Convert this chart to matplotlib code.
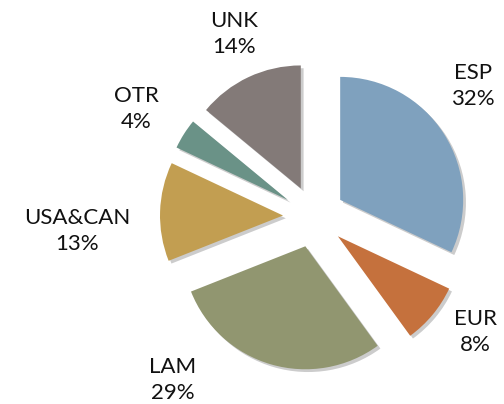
import matplotlib
matplotlib.use("Agg")
import matplotlib.pyplot as plt
import matplotlib.patheffects as pe

# Regions and share of total (%)
regions = ["ESP", "EUR", "LAM", "USA&CAN", "OTR", "UNK"]
shares = [32, 8, 29, 13, 4, 14]
colors = ["#7fa1be", "#c5713d", "#919670", "#c29e51", "#6a9287", "#837a78"]

# label anchor points in pixels (x, y from top)
label_pos = [(473, 86), (475, 332), (173, 380), (77, 231), (136, 109), (234, 34)]

W, H = 504, 404
fig = plt.figure(figsize=(W / 100, H / 100), dpi=100)
ax = fig.add_axes([0, 0, 1, 1])

# explode is an absolute offset here (same units as radius)
wedges, _ = ax.pie(
    shares,
    colors=colors,
    startangle=90,
    counterclock=False,
    explode=[31] * len(shares),
    radius=123,
    center=(314, H - 216.5),
    wedgeprops=dict(linewidth=0),
)
for w in wedges:
    w.set_path_effects([pe.SimplePatchShadow(offset=(2, -2), shadow_rgbFace="#000000", alpha=0.2),
                        pe.Normal()])

for name, val, (x, y) in zip(regions, shares, label_pos):
    ax.text(x, H - y, f"{name}\n{val}%", ha="center", va="center",
            fontsize=16, family="Lato", linespacing=1.35, color="#111111")

ax.set_xlim(0, W)
ax.set_ylim(0, H)
ax.set_aspect("equal")
ax.axis("off")

fig.savefig("out.png", dpi=100, facecolor="white")
